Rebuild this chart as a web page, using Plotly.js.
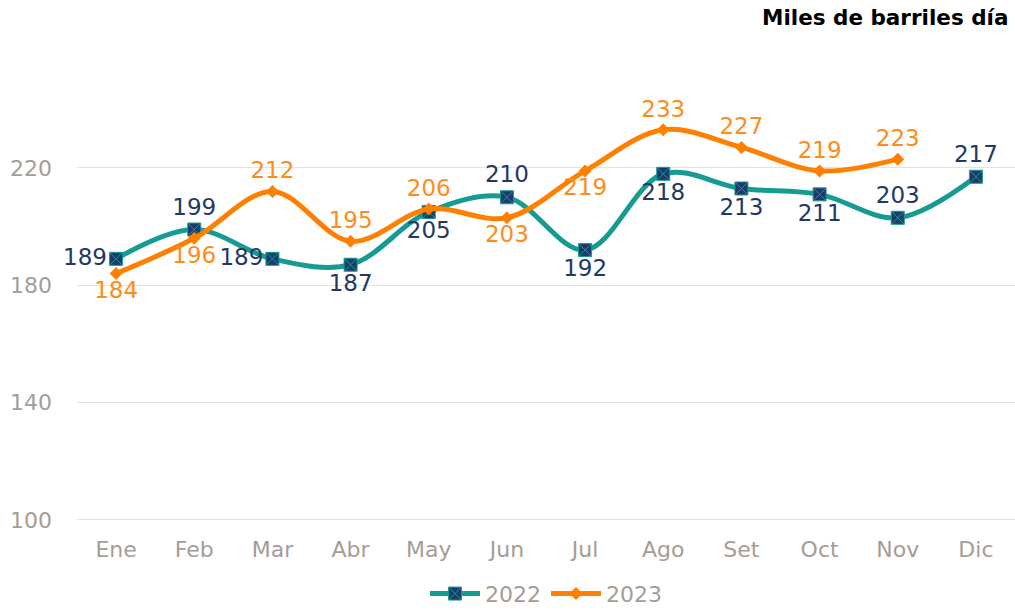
<!DOCTYPE html>
<html><head><meta charset="utf-8">
<script src="https://cdn.plot.ly/plotly-3.0.1.min.js"></script>
<style>html,body{margin:0;padding:0;background:#fff}#chart{width:1015px;height:610px}</style>
</head><body><div id="chart"></div>
<script>
const months = ["Ene","Feb","Mar","Abr","May","Jun","Jul","Ago","Set","Oct","Nov","Dic"];
const values2022 = [189,199,189,187,205,210,192,218,213,211,203,217];
const values2023 = [184,196,212,195,206,203,219,233,227,219,223];
const labelPos2022 = ["middle left","top center","middle left","bottom center","bottom center","top center","bottom center","bottom center","bottom center","bottom center","top center","top center"];
const labelPos2023 = ["bottom center","bottom center","top center","top center","top center","bottom center","bottom center","top center","top center","top center","top center"];
const yTicks = [100,140,180,220];

const font = "DejaVu Sans, Liberation Sans, Arial, sans-serif";
const traces = [
 {x: months, y: values2022, name: "2022", type: "scatter", mode: "lines+markers+text",
  line: {color: "#169b93", width: 5, shape: "spline", smoothing: 1},
  marker: {symbol: "square-x", size: 13, color: "#1c3a6b", line: {color: "#169b93", width: 1}},
  text: values2022.map(String), textposition: labelPos2022,
  textfont: {family: font, size: 23, color: "#1f3864"}, cliponaxis: false},
 {x: months.slice(0, values2023.length), y: values2023, name: "2023", type: "scatter", mode: "lines+markers+text",
  line: {color: "#ff8000", width: 5, shape: "spline", smoothing: 1},
  marker: {symbol: "diamond", size: 10, color: "#ff8000"},
  text: values2023.map(String), textposition: labelPos2023,
  textfont: {family: font, size: 23, color: "#ff8c1a"}, cliponaxis: false}
];
const layout = {
 width: 1015, height: 610,
 margin: {l: 77, r: 0, t: 80, b: 89, autoexpand: false},
 paper_bgcolor: "#fff", plot_bgcolor: "#fff",
 showlegend: true,
 legend: {orientation: "h", x: 0.5, xanchor: "center", y: -0.165, yanchor: "middle",
   font: {family: font, size: 22, color: "#a59d95"}, itemwidth: 50, traceorder: "normal"},
 xaxis: {type: "category", range: [-0.5, 11.5], showgrid: false, zeroline: false, showline: false, automargin: false,
   ticks: "", tickfont: {family: font, size: 22, color: "#a59d95"}, ticklabelstandoff: 13},
 yaxis: {range: [99.6, 250], tickvals: yTicks, showgrid: true, gridcolor: "#e3e3e3", gridwidth: 1, automargin: false,
   zeroline: false, showline: false, ticks: "", tickfont: {family: font, size: 22, color: "#a59d95"},
   ticklabelstandoff: 24},
 annotations: [
  {text: "<b>Miles de barriles día</b>", xref: "paper", yref: "paper", x: 0.995, y: 1.0, xanchor: "right", yanchor: "bottom",
   yshift: 48, showarrow: false, font: {family: font, size: 21.5, color: "#000"}}
 ]
};
Plotly.newPlot("chart", traces, layout, {displayModeBar: false, staticPlot: true});
</script></body></html>
